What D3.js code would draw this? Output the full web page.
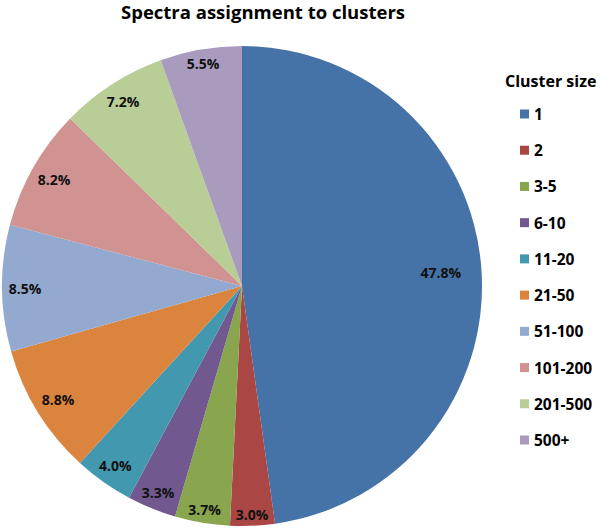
<!DOCTYPE html>
<html>
<head>
<meta charset="utf-8">
<script src="https://cdn.jsdelivr.net/npm/d3@7"></script>
<style>
  html, body { margin: 0; padding: 0; background: #fff; }
  svg { display: block; font-family: "Open Sans", "Liberation Sans", sans-serif; }
</style>
</head>
<body>
<svg id="chart" width="600" height="529"></svg>
<script>
const title = "Spectra assignment to clusters";
const legendTitle = "Cluster size";
const categories = ["1", "2", "3-5", "6-10", "11-20", "21-50", "51-100", "101-200", "201-500", "500+"];
const values = [47.8, 3.0, 3.7, 3.3, 4.0, 8.8, 8.5, 8.2, 7.2, 5.5];
const colors = ["#4572A7", "#AA4643", "#89A54E", "#71588F", "#4198AF", "#DB843D", "#93A9CF", "#D19392", "#B9CD96", "#A99BBD"];

const svg = d3.select("#chart");
const cx = 242, cy = 286, r = 240;

svg.append("text")
  .attr("x", 263).attr("y", 19)
  .attr("text-anchor", "middle")
  .attr("font-size", 18.5).attr("font-weight", 700)
  .attr("fill", "#000")
  .text(title);

const data = categories.map((c, i) => ({ cat: c, value: values[i], color: colors[i] }));
const pie = d3.pie().value(d => d.value).sort(null);
const arcs = pie(data);
const arc = d3.arc().innerRadius(0).outerRadius(r);

const g = svg.append("g").attr("transform", `translate(${cx},${cy})`);
g.selectAll("path").data(arcs).join("path")
  .attr("d", arc)
  .attr("fill", d => d.data.color);

const fmt = d3.format(".1f");
const lw = 40, lh = 15, pad = 3;
g.selectAll("text.lbl").data(arcs).join("text")
  .attr("class", "lbl")
  .attr("text-anchor", "middle")
  .attr("dominant-baseline", "central")
  .attr("font-size", 14).attr("font-weight", 700)
  .attr("fill", "#111")
  .attr("transform", d => {
    const a = (d.startAngle + d.endAngle) / 2;
    const dx = Math.sin(a), dy = -Math.cos(a);
    let rl;
    if (d.data.value > 25) rl = r * 0.83;
    else rl = r - pad - (Math.abs(dx) * lw / 2 + Math.abs(dy) * lh / 2);
    return `translate(${dx * rl},${dy * rl})`;
  })
  .text(d => fmt(d.data.value) + "%");

// legend
const lg = svg.append("g");
lg.append("text")
  .attr("x", 505).attr("y", 87)
  .attr("font-size", 16).attr("font-weight", 700).attr("fill", "#000")
  .text(legendTitle);

const ly = d3.scalePoint().domain(categories).range([114, 440]);
const items = lg.selectAll("g.item").data(data).join("g").attr("class", "item")
  .attr("transform", d => `translate(520,${ly(d.cat)})`);
items.append("rect").attr("x", 0).attr("y", -4.5).attr("width", 9).attr("height", 9)
  .attr("fill", d => d.color);
items.append("text").attr("x", 14).attr("y", 0)
  .attr("dominant-baseline", "central")
  .attr("font-size", 15.5).attr("font-weight", 700).attr("fill", "#000")
  .text(d => d.cat);
</script>
</body>
</html>
